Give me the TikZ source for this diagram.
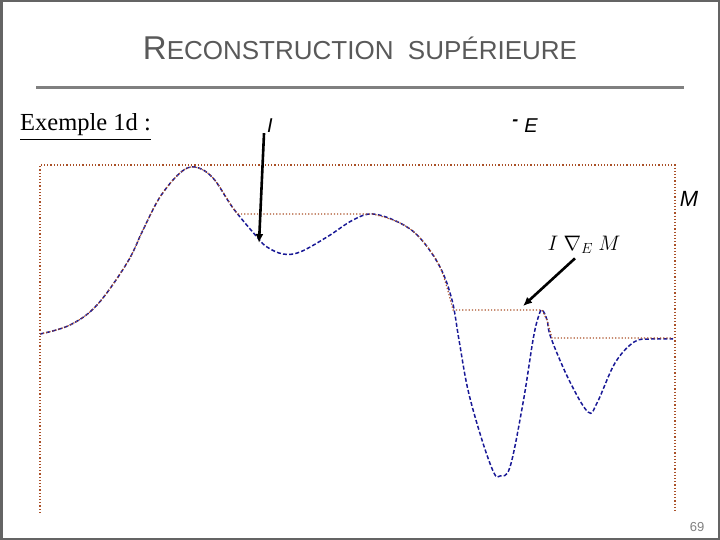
\documentclass[tikz,border=0pt]{standalone}
\usepackage{fix-cm}
\usepackage{amsmath,amssymb}
\usepackage{fontspec}
\setmainfont{Liberation Serif}
\setsansfont{Liberation Sans}
\usepackage{xcolor}
\usepackage{tikz}
\usetikzlibrary{arrows.meta,positioning,calc}

\definecolor{slidegray}{RGB}{100,100,100}
\definecolor{titlegray}{RGB}{89,89,89}
\definecolor{curveblue}{RGB}{25,25,150}
\definecolor{recbrown}{RGB}{170,80,40}

\tikzset{
    curveI/.style={curveblue, line width=1.5pt, dash pattern=on 4pt off 2.2pt},
    recon/.style={recbrown, line width=1.2pt, dotted},
    pointer/.style={-{Latex[length=9pt,width=8pt]}, line width=2.6pt, black},
    funclabel/.style={font=\sffamily\itshape\fontsize{20}{20}\selectfont, inner sep=0pt}
}

\begin{document}
\begin{tikzpicture}[x=1pt,y=-1pt]
    \useasboundingbox (0,0) rectangle (720,540);
    % slide frame
    \draw[slidegray, line width=2.5pt] (1.25,1.25) rectangle (718.75,538.75);

    % title and rule
    \node[anchor=base, text=titlegray, font=\sffamily, inner sep=0pt] (title) at (360,60)
        {{\fontsize{33}{33}\selectfont R}{\fontsize{26}{26}\selectfont ECONSTRUCTION\ \ SUPÉRIEURE}};
    \draw[gray, line width=3pt] (36,88) -- (684,88);

    % labels
    \node[anchor=base west, inner sep=0pt, font=\fontsize{24.5}{24.5}\selectfont] (ex) at (20,131)
        {\underline{Exemple 1d :}};
    \node[funclabel, anchor=base] (labI) at (270,133) {I};
    \node[funclabel, anchor=base] (labE) at (525,133)
        {\raisebox{.36em}{\fontsize{18}{18}\selectfont\bfseries -}\hspace{6pt}E};
    \node[funclabel, anchor=base, font=\sffamily\itshape\fontsize{22}{22}\selectfont] (labM) at (689,207) {M};
    \node[anchor=base, inner sep=0pt, font=\fontsize{21}{21}\selectfont] (labR) at (584,250)
        {$I\ \nabla_{E}\ M$};

    % marker M
    \draw[recon] (40,513) -- (40,165) -- (675,165) -- (675,513);

    % curve I
    \draw[curveI] plot[smooth, tension=0.6] coordinates {
        (40,334) (70,325) (97,305) (127,263) (143,230) (160,197) (180,173)
        (195,167) (213,178) (233,208) (257,237) (267,247) (283,254) (300,252)
        (327,237) (353,220) (373,214) (400,223) (420,238) (440,267) (452,300)
        (459,340) (468,390) (482,440) (494,473) (500,476) (510,467) (523,403)
        (533,340) (538,318) (542,310) (547,320) (551,338) (569,380) (588,412)
        (597,403) (615,363) (634,342) (650,339) (673,339)};

    % reconstruction
    \draw[recon] plot[smooth, tension=0.6] coordinates {
        (40,334) (70,325) (97,305) (127,263) (143,230) (160,197) (180,173)
        (195,167) (213,178) (233,208) (238,214)}
        -- (373,214)
        -- plot[smooth, tension=0.6] coordinates {
        (373,214) (400,223) (420,238) (440,267) (453,310)}
        -- (542,310) -- (547,320) -- (552,338) -- (673,338);

    % pointers
    \coordinate (dipI) at (259,243);
    \coordinate (flatR) at (523,306);
    \draw[pointer] (labI.south west) ++(-3,0) -- (dipI);
    \draw[pointer] (labR.south) ++(-9,5) -- (flatR);

    % slide number
    \node[text=gray, font=\sffamily\fontsize{13}{13}\selectfont, inner sep=0pt] (num) at (697,527) {69};
\end{tikzpicture}
\end{document}
